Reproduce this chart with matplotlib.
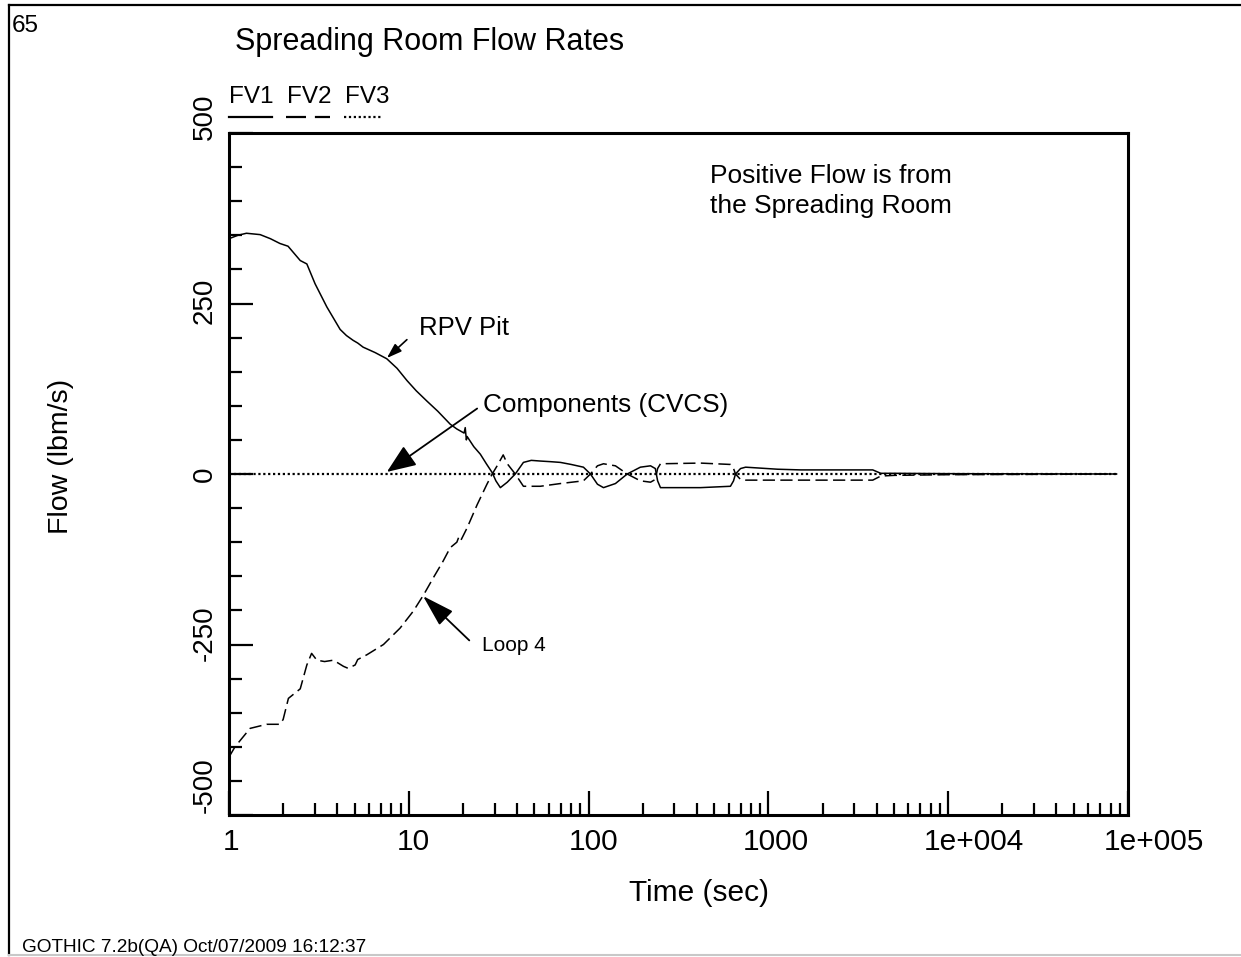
import matplotlib
matplotlib.use('Agg')
import matplotlib.pyplot as plt
from matplotlib.lines import Line2D
from matplotlib.transforms import ScaledTranslation
from matplotlib.ticker import LogLocator, NullFormatter, FixedLocator

plt.rcParams['font.family'] = ['Liberation Sans', 'DejaVu Sans']

# FV1 - RPV Pit (solid)
rpv_t = [1.0, 1.12, 1.25, 1.49, 1.7, 1.92, 2.13, 2.49, 2.71, 3.01, 3.5, 4.15, 4.5, 4.9,
         5.2, 5.57, 6.5, 7.54, 8.6, 9.77, 11.0, 12.6, 14.5, 17.0, 18.5, 20.3, 20.6, 20.9,
         21.1, 23.0, 25.0, 27.0, 29.1, 30.5, 32.3, 35.3, 39.1, 43.4, 48.0, 53.9, 62.0,
         69.7, 80.0, 93.6, 102.4, 112, 121, 141, 164, 194, 221, 235, 242, 251, 419, 615,
         640, 656, 700, 747, 1125, 1512, 2500, 3805, 4216, 5000, 10000, 30000, 86400]
rpv_v = [345, 350, 353, 351, 345, 338, 334, 313, 308, 279, 245, 212, 203, 196,
         192, 186, 178, 169, 155, 137, 122, 107, 92, 73, 66, 60, 68, 50,
         55, 40, 29, 15, 2, -10, -20, -12, 0, 17, 20, 19, 18,
         17, 14, 10, 0, -15, -20, -14, 0, 10, 12, 8, -10, -20, -20, -18,
         -10, 0, 8, 10, 7, 6, 6, 6, 1, 1, 0.5, 0.2, 0]

# FV2 - Loop 4 (dashed)
loop_t = [1.0, 1.08, 1.31, 1.62, 1.92, 2.0, 2.14, 2.49, 2.71, 2.88, 3.08, 3.4, 3.81, 4.33,
          4.6, 5.03, 5.2, 5.85, 7.23, 8.94, 10.6, 12.1, 13.7, 15.5, 17.0, 18.5, 19.0,
          19.5, 21.1, 24.0, 27.2, 29.1, 31.0, 33.5, 35.3, 39.1, 43.4, 53.9, 69.7, 93.6,
          102.4, 112, 121, 141, 164, 194, 221, 235, 242, 251, 419, 615, 640, 656, 700,
          747, 1125, 1512, 3805, 4216, 5000, 10000, 30000, 86400]
loop_v = [-415, -400, -373, -367, -367, -360, -329, -315, -280, -263, -273, -275, -273, -282,
          -285, -280, -272, -265, -250, -226, -201, -177, -152, -128, -108, -100, -92,
          -97, -79, -45, -15, 0, 12, 28, 15, 0, -18, -18, -14, -10,
          0, 12, 15, 12, 0, -10, -12, -8, 8, 15, 16, 14, 8, 0, -8,
          -9, -9, -9, -9, -3, -2, -1, -0.5, 0]

# FV3 - Components (CVCS) (dotted)
cvcs_t = [1.0, 86400]
cvcs_v = [0, 0]

x_ticks = [1, 10, 100, 1000, 1e4, 1e5]
x_labels = ['1', '10', '100', '1000', '1e+004', '1e+005']
y_ticks = [-500, -250, 0, 250, 500]
y_labels = ['-500', '-250', '0', '250', '500']

W, H = 1241, 957
def fx(px):
    return px / W
def fy(py):
    return 1 - py / H

fig = plt.figure(figsize=(W / 100, H / 100), dpi=100)
ax = fig.add_axes([fx(229), fy(815), (1128 - 229) / W, (815 - 133) / H])

dash = (0, (8, 3.5))
dot = (0, (1, 1.2))
ax.plot(rpv_t, rpv_v, color='black', lw=1.1)
ax.plot(loop_t, loop_v, color='black', lw=1.1, ls=dash)
ax.plot(cvcs_t, cvcs_v, color='black', lw=1.6, ls=dot)

ax.set_xscale('log')
ax.set_xlim(1, 1e5)
ax.set_ylim(-500, 500)
ax.xaxis.set_major_locator(FixedLocator(x_ticks))
ax.set_xticklabels(x_labels, fontsize=21.5)
ax.xaxis.set_minor_locator(LogLocator(base=10, subs=range(2, 10)))
ax.xaxis.set_minor_formatter(NullFormatter())
ax.set_yticks(y_ticks)
ax.set_yticklabels(y_labels, fontsize=20, rotation=90, va='center')
ax.set_yticks(range(-450, 500, 50), minor=True)

ax.tick_params(which='both', direction='in', top=False, right=False, width=1.6, color='black')
ax.tick_params(axis='y', which='major', length=17, pad=8)
ax.tick_params(axis='y', which='minor', length=9)
ax.tick_params(axis='x', which='major', length=17, pad=9)
ax.tick_params(axis='x', which='minor', length=9)
for s in ax.spines.values():
    s.set_linewidth(2.2)

# the plotting program placed its tick labels a little off-centre
for lab, dx in zip(ax.get_xticklabels(), [2, 5, 5, 7, 26, 26]):
    lab.set_transform(lab.get_transform() + ScaledTranslation(dx / 100, 0, fig.dpi_scale_trans))
for lab, dy in zip(ax.get_yticklabels(), [30, 11, 0, 3, 16]):
    lab.set_transform(lab.get_transform() + ScaledTranslation(0, dy / 100, fig.dpi_scale_trans))

# annotations
ax.annotate('', xy=(7.55, 170), xytext=(9.76, 197),
            arrowprops=dict(arrowstyle='-|>,head_length=0.45,head_width=0.15',
                            color='black', lw=1.2, mutation_scale=20, shrinkA=0, shrinkB=0))
ax.annotate('', xy=(7.55, 3), xytext=(24.0, 96),
            arrowprops=dict(arrowstyle='-|>,head_length=0.9,head_width=0.36',
                            color='black', lw=1.3, mutation_scale=20, shrinkA=0, shrinkB=0))
ax.annotate('', xy=(12.0, -179), xytext=(21.7, -244),
            arrowprops=dict(arrowstyle='-|>,head_length=1.0,head_width=0.3',
                            color='black', lw=1.3, mutation_scale=20, shrinkA=0, shrinkB=0))
fig.text(fx(419), fy(335), 'RPV Pit', fontsize=18.5, va='baseline')
fig.text(fx(483), fy(412), 'Components (CVCS)', fontsize=18.8, va='baseline')
fig.text(fx(482), fy(651), 'Loop 4', fontsize=15, va='baseline')
fig.text(fx(831), fy(183), 'Positive Flow is from', fontsize=19, ha='center', va='baseline')
fig.text(fx(831), fy(213), 'the Spreading Room', fontsize=19, ha='center', va='baseline')

# titles and labels
fig.text(fx(12), fy(32), '65', fontsize=17.5, va='baseline')
fig.text(fx(235), fy(50), 'Spreading Room Flow Rates', fontsize=22, va='baseline')
fig.text(fx(699), fy(893), 'Time (sec)', fontsize=21.5, ha='center', va='center')
fig.text(fx(61), fy(456), 'Flow (lbm/s)', fontsize=20.5, ha='center', va='center', rotation=90)
fig.text(fx(22), fy(952), 'GOTHIC 7.2b(QA) Oct/07/2009 16:12:37', fontsize=13.7, va='baseline')

# legend above the axes
fig.text(fx(229), fy(103), 'FV1', fontsize=17.5, va='baseline')
fig.text(fx(287), fy(103), 'FV2', fontsize=17.5, va='baseline')
fig.text(fx(345), fy(103), 'FV3', fontsize=17.5, va='baseline')
fig.add_artist(Line2D([fx(229), fx(272)], [fy(117), fy(117)], color='black', lw=1.6))
fig.add_artist(Line2D([fx(286), fx(330)], [fy(117), fy(117)], color='black', lw=1.6,
                      ls=(0, (9, 4))))
fig.add_artist(Line2D([fx(344), fx(383)], [fy(117), fy(117)], color='black', lw=1.6, ls=dot))

# page frame
fig.add_artist(Line2D([fx(9), fx(1241)], [fy(5), fy(5)], color='black', lw=1.6))
fig.add_artist(Line2D([fx(9), fx(9)], [fy(5), fy(955)], color='black', lw=1.6))
fig.add_artist(Line2D([fx(9), fx(1241)], [fy(955), fy(955)], color='#c8c8c8', lw=1.5))

fig.savefig('out.png', dpi=100)
